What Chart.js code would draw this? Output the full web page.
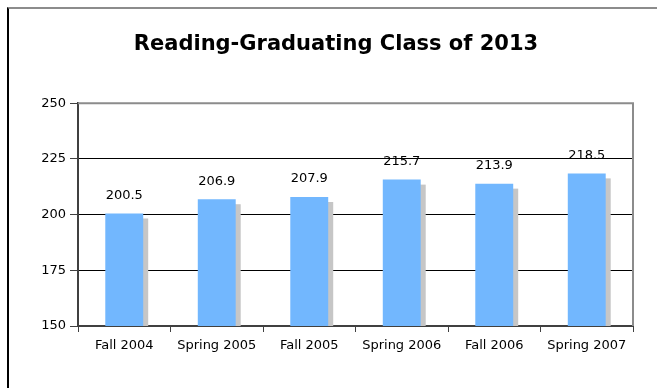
<!DOCTYPE html>
<html>
<head>
<meta charset="utf-8">
<script src="https://cdn.jsdelivr.net/npm/chart.js@4/dist/chart.umd.min.js"></script>
<style>
  html, body { margin: 0; padding: 0; background: #fff; }
  #frame {
    position: absolute; left: 7px; top: 7px; width: 660px; height: 400px;
    border-top: 2px solid #8c8c8c; border-left: 2px solid #000;
  }
  #wrap { position: absolute; left: 0; top: 0; width: 657px; height: 388px; }
</style>
</head>
<body>
<div id="frame"></div>
<div id="wrap"><canvas id="chart" width="657" height="388"></canvas></div>
<script>
const terms = ['Fall 2004', 'Spring 2005', 'Fall 2005', 'Spring 2006', 'Fall 2006', 'Spring 2007'];
const scores = [200.5, 206.9, 207.9, 215.7, 213.9, 218.5];
const yMin = 150;
const yMax = 250;
const yStep = 25;

const FONT = "'DejaVu Sans', Verdana, sans-serif";

// grey drop shadow behind each bar
const barShadow = {
  id: 'barShadow',
  beforeDatasetsDraw(chart) {
    const ctx = chart.ctx;
    const area = chart.chartArea;
    ctx.save();
    ctx.beginPath();
    ctx.rect(area.left, area.top, area.right - area.left, area.bottom - area.top);
    ctx.clip();
    ctx.fillStyle = '#c6c6c6';
    chart.getDatasetMeta(0).data.forEach(bar => {
      const p = bar.getProps(['x', 'y', 'base', 'width'], true);
      ctx.fillRect(p.x - p.width / 2 + 5, p.y + 5, p.width, p.base - p.y - 5);
    });
    ctx.restore();
  }
};

// value above each bar
const valueLabels = {
  id: 'valueLabels',
  afterDatasetsDraw(chart) {
    const ctx = chart.ctx;
    ctx.save();
    ctx.font = '13px ' + FONT;
    ctx.fillStyle = '#000';
    ctx.textAlign = 'center';
    ctx.textBaseline = 'middle';
    chart.getDatasetMeta(0).data.forEach((bar, i) => {
      ctx.fillText(scores[i].toFixed(1), bar.x, bar.y - 18);
    });
    ctx.restore();
  }
};

// grey top and right edge of the plot area
const plotFrame = {
  id: 'plotFrame',
  afterDraw(chart) {
    const ctx = chart.ctx;
    const a = chart.chartArea;
    ctx.save();
    ctx.strokeStyle = '#8c8c8c';
    ctx.lineWidth = 2;
    ctx.beginPath();
    ctx.moveTo(a.left, a.top);
    ctx.lineTo(a.right, a.top);
    ctx.lineTo(a.right, a.bottom);
    ctx.stroke();
    ctx.restore();
  }
};

const ctx = document.getElementById('chart').getContext('2d');
const chart = new Chart(ctx, {
  type: 'bar',
  data: {
    labels: terms,
    datasets: [{
      data: scores,
      backgroundColor: '#72b7fe',
      borderWidth: 0,
      barPercentage: 0.41,
      categoryPercentage: 1.0
    }]
  },
  options: {
    responsive: false,
    animation: false,
    layout: { padding: { left: 39, right: 24, top: 0, bottom: 0 } },
    plugins: {
      legend: { display: false },
      tooltip: { enabled: false },
      title: {
        display: true,
        text: 'Reading-Graduating Class of 2013',
        color: '#000',
        font: { family: FONT, size: 21, weight: 'bold' },
        padding: { top: 32, bottom: 46 }
      }
    },
    scales: {
      x: {
        afterFit: s => { s.height = 62; },
        grid: {
          offset: true,
          drawOnChartArea: false,
          tickLength: 6,
          color: '#404040'
        },
        border: { color: '#404040', width: 2 },
        ticks: {
          color: '#000',
          padding: 6,
          font: { family: FONT, size: 13 }
        }
      },
      y: {
        min: yMin,
        max: yMax,
        afterFit: s => { s.width = 39; },
        grid: {
          color: c => (c.tick && c.tick.value === yMax) ? 'rgba(0,0,0,0)' : '#000',
          tickColor: '#404040',
          tickLength: 8
        },
        border: { color: '#404040', width: 2 },
        ticks: {
          stepSize: yStep,
          color: '#000',
          padding: 4,
          font: { family: FONT, size: 13 }
        }
      }
    }
  },
  plugins: [barShadow, valueLabels, plotFrame]
});
</script>
</body>
</html>
